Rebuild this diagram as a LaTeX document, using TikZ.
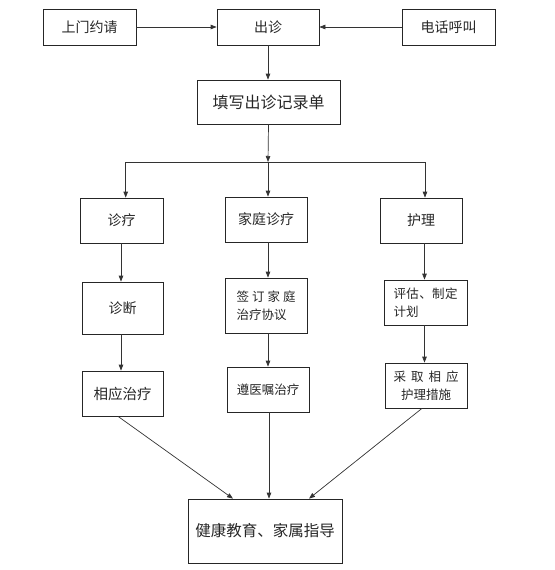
\documentclass[tikz,border=0pt]{standalone}
\usepackage{fontspec}
\setmainfont{Noto Sans CJK SC}
\usetikzlibrary{arrows.meta}
\begin{document}
\begin{tikzpicture}[x=1pt,y=-1pt,
  box/.style={draw=black!85,line width=0.7pt,inner sep=2pt,text=black!85,font=\fontsize{14}{16}\selectfont},
  small/.style={font=\fontsize{12.5}{18}\selectfont},
  arr/.style={draw=black!80,line width=0.7pt,-{Triangle[length=6pt,width=4.5pt]}},
  ln/.style={draw=black!80,line width=0.7pt}]
\useasboundingbox (0,0) rectangle (554,570);
\node[box,minimum width=93pt,minimum height=36pt] (a) at (89.5,27) {上门约请};
\node[box,minimum width=102pt,minimum height=36pt] (b) at (268,27) {出诊};
\node[box,minimum width=93pt,minimum height=36pt] (c) at (448.5,27) {电话呼叫};
\node[box,minimum width=143pt,minimum height=44pt,font=\fontsize{16}{18}\selectfont] (d) at (268.5,102) {填写出诊记录单};
\node[box,minimum width=83pt,minimum height=45pt] (e) at (121.5,220.5) {诊疗};
\node[box,minimum width=82pt,minimum height=45pt] (f) at (266,219.5) {家庭诊疗};
\node[box,minimum width=82pt,minimum height=45pt] (g) at (421,220.5) {护理};
\node[box,minimum width=81pt,minimum height=52pt] (h) at (122.5,308) {诊断};
\node[box,small,minimum width=82pt,minimum height=55pt,align=left] (i) at (266,305.5) {\makebox[59pt][l]{签\hfill 订\hfill 家\hfill 庭}\\治疗协议};
\node[box,small,minimum width=83pt,minimum height=45pt,align=left] (j) at (425.5,302.5) {\makebox[64pt][l]{评\hfill 估\hfill 、\hfill 制\hfill 定}\\计划};
\node[box,minimum width=81pt,minimum height=45pt,font=\fontsize{14.5}{16}\selectfont] (k) at (122.5,393.5) {相应治疗};
\node[box,small,minimum width=82pt,minimum height=45pt] (l) at (268,389.5) {遵医嘱治疗};
\node[box,small,minimum width=82pt,minimum height=45pt,align=center] (m) at (426,385.5) {\makebox[65pt][l]{采\hfill 取\hfill 相\hfill 应}\\护理措施};
\node[box,minimum width=154pt,minimum height=64pt,font=\fontsize{15.5}{18}\selectfont] (n) at (265,531) {健康教育、家属指导};
% top row
\draw[arr] (a.east) -- (b.west);
\draw[arr] (c.east -| c.west) -- (b.east);
\draw[arr] (b.south) -- (b.south |- d.north);
% split
\coordinate (sp) at (268,162);
\coordinate (sl) at (125.7,162);
\coordinate (sr) at (425,162);
\draw[arr] (d.south) -- (sp);
\draw[ln] (sl) -- (sr);
\draw[arr] (sl) -- (sl |- e.north);
\draw[arr] (sp) -- (sp |- f.north);
\draw[arr] (sr) -- (sr |- g.north);
% columns
\coordinate (c1) at (121,0);
\coordinate (c2) at (268,0);
\coordinate (c3) at (424.5,0);
\draw[arr] (c1 |- e.south) -- (c1 |- h.north);
\draw[arr] (c2 |- f.south) -- (c2 |- i.north);
\draw[arr] (c3 |- g.south) -- (c3 |- j.north);
\draw[arr] (c1 |- h.south) -- (c1 |- k.north);
\draw[arr] (c2 |- i.south) -- (c2 |- l.north);
\draw[arr] (c3 |- j.south) -- (c3 |- m.north);
% bottom
\draw[arr] ([xshift=-4.5pt]k.south) -- ([xshift=-32pt]n.north);
\draw[arr] ([xshift=1pt]l.south) -- ([xshift=4pt]n.north);
\draw[arr] ([xshift=-4pt]m.south) -- ([xshift=44pt]n.north);
\end{tikzpicture}
\end{document}
